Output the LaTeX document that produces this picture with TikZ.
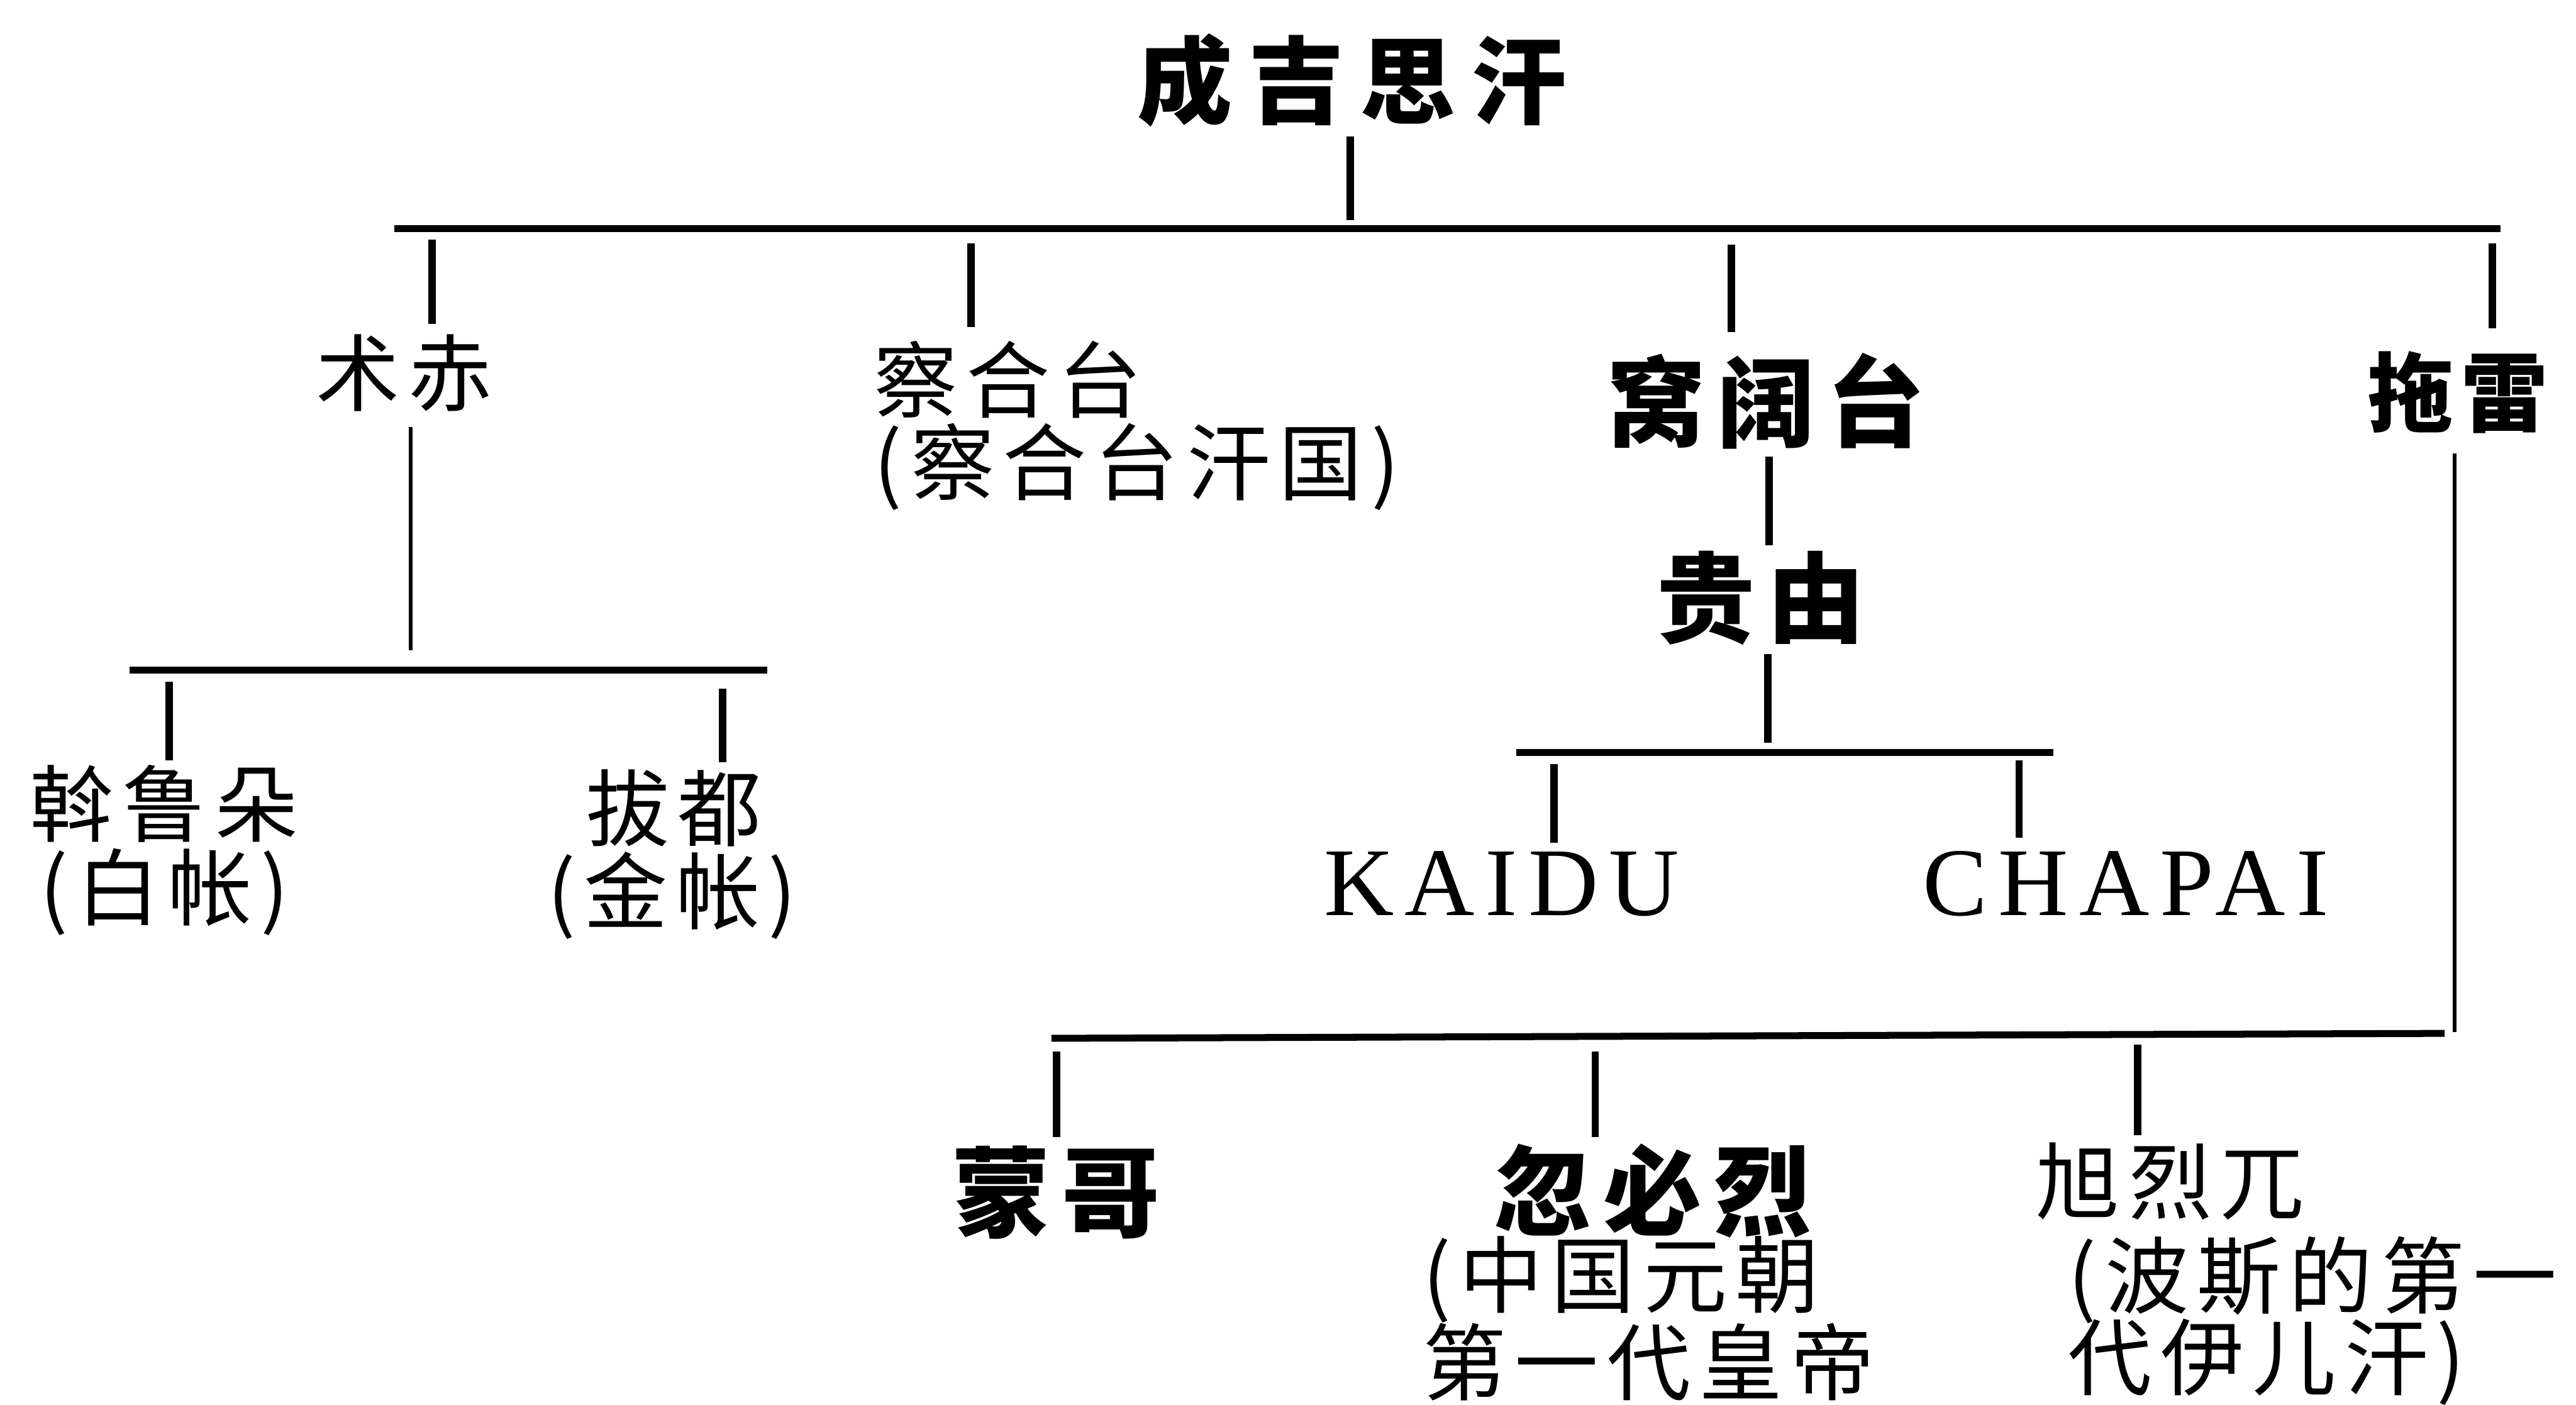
\documentclass[tikz,border=0pt]{standalone}
\usepackage{fontspec}
\newfontfamily\cjkreg{Noto Sans CJK SC}[LetterSpace=10]
\newfontfamily\cjkttl{Noto Sans CJK SC}[LetterSpace=17]
\newfontfamily\cjkbld{Noto Sans CJK SC}[LetterSpace=12]
\newfontfamily\cjkbldn{Noto Sans CJK SC}[LetterSpace=8]
\newfontfamily\latinlbl{Liberation Serif}[LetterSpace=11]
\begin{document}
\begin{tikzpicture}[x=0.02cm, y=-0.02cm,
  every node/.style={inner sep=0pt, outer sep=0pt},
  reg/.style={font=\cjkreg\fontsize{29}{32}\selectfont},
  bld/.style={font=\cjkbld\bfseries\fontsize{34}{38}\selectfont},
  bldsm/.style={font=\cjkbldn\bfseries\fontsize{30}{34}\selectfont},
  ttl/.style={font=\cjkttl\bfseries\fontsize{33}{37}\selectfont},
  lat/.style={font=\latinlbl\fontsize{33.6}{38}\selectfont},
  stem/.style={line width=2.6pt},
  bar/.style={line width=2.4pt},
  thinline/.style={line width=1.4pt}]
\useasboundingbox[fill=white] (0,0) rectangle (1568,855);

% ---- nodes ----
\node[ttl] (genghis) at (823,49) {成吉思汗};
\node[reg] (zhuchi) at (246,227) {术赤};
\node[reg, anchor=west] (chagatai) at (532,231) {察合台};
\node[reg, anchor=west] (chagataiK) at (532,284) {(察合台汗国)};
\node[bld] (ogedei) at (1075,244) {窝阔台};
\node[bld] (guyuk) at (1072,364) {贵由};
\node[bldsm] (tolui) at (1496,239) {拖雷};
\node[reg] (orda) at (100,489) {斡鲁朵};
\node[reg] (ordaN) at (100,543) {(白帐)};
\node[reg] (batu) at (410,492) {拔都};
\node[reg] (batuN) at (409,545) {(金帐)};
\node[lat] (kaidu) at (914,538) {KAIDU};
\node[lat] (chapai) at (1294,538) {CHAPAI};
\node[bld] (mongke) at (643,726) {蒙哥};
\node[bld] (kublai) at (1006,725) {忽必烈};
\node[reg, anchor=west] (kublaiA) at (866,779) {(中国元朝};
\node[reg, anchor=west] (kublaiB) at (866,829) {第一代皇帝};
\node[reg] (hulagu) at (1321,719) {旭烈兀};
\node[reg, anchor=west] (hulaguA) at (1259,779) {(波斯的第一};
\node[reg, anchor=west] (hulaguB) at (1259,829) {代伊儿汗)};

% ---- connector coordinates ----
\coordinate (g1) at (822,83);   \coordinate (g2) at (822,134);
\coordinate (b1L) at (240,139); \coordinate (b1R) at (1522,139);
\coordinate (d1a) at (263,146); \coordinate (d1b) at (263,197);
\coordinate (d2a) at (591,148); \coordinate (d2b) at (591,199);
\coordinate (d3a) at (1054,149); \coordinate (d3b) at (1054,202);
\coordinate (d4a) at (1517,148); \coordinate (d4b) at (1517,200);

\coordinate (z1) at (250,260);  \coordinate (z2) at (250,396);
\coordinate (b2L) at (79,408);  \coordinate (b2R) at (467,408);
\coordinate (e1a) at (103,415); \coordinate (e1b) at (103,463);
\coordinate (e2a) at (440,419); \coordinate (e2b) at (440,464);

\coordinate (o1) at (1077,278); \coordinate (o2) at (1077,332);
\coordinate (u1) at (1076,398); \coordinate (u2) at (1076,452);
\coordinate (b3L) at (923,458); \coordinate (b3R) at (1250,458);
\coordinate (f1a) at (946,465); \coordinate (f1b) at (946,513);
\coordinate (f2a) at (1229,463); \coordinate (f2b) at (1229,510);

\coordinate (t1) at (1494,276); \coordinate (t2) at (1494,628);
\coordinate (b4L) at (640,632); \coordinate (b4R) at (1488,629);
\coordinate (h1a) at (643,640); \coordinate (h1b) at (643,692);
\coordinate (h2a) at (971,640); \coordinate (h2b) at (971,692);
\coordinate (h3a) at (1301,636); \coordinate (h3b) at (1301,691);

% ---- connectors ----
\draw[stem] (g1) -- (g2);
\draw[bar] (b1L) -- (b1R);
\draw[stem] (d1a) -- (d1b);
\draw[stem] (d2a) -- (d2b);
\draw[stem] (d3a) -- (d3b);
\draw[stem] (d4a) -- (d4b);

\draw[thinline] (z1) -- (z2);
\draw[bar] (b2L) -- (b2R);
\draw[stem] (e1a) -- (e1b);
\draw[stem] (e2a) -- (e2b);

\draw[stem] (o1) -- (o2);
\draw[stem] (u1) -- (u2);
\draw[bar] (b3L) -- (b3R);
\draw[stem] (f1a) -- (f1b);
\draw[stem] (f2a) -- (f2b);

\draw[thinline] (t1) -- (t2);
\draw[bar] (b4L) -- (b4R);
\draw[stem] (h1a) -- (h1b);
\draw[stem] (h2a) -- (h2b);
\draw[stem] (h3a) -- (h3b);
\end{tikzpicture}
\end{document}
